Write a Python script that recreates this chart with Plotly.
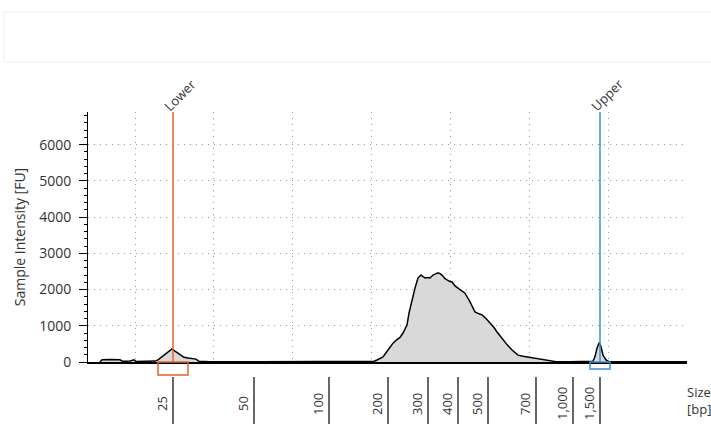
import plotly.graph_objects as go

# Electropherogram trace: position along the separation axis and intensity [FU]
position = [100, 102, 110, 120, 122, 124, 130, 134, 136, 140, 145, 150, 155, 158, 162, 166, 170, 172,
            175, 178, 181, 184, 188, 192, 196, 199, 210, 260, 320, 360, 370, 374, 377, 383, 388, 393,
            397, 400, 403, 407, 409, 412, 415, 418, 421, 423, 425, 428, 430, 433, 436, 438, 440, 442,
            445, 447, 450, 452, 455, 458, 461, 465, 470, 475, 479, 482, 486, 490, 494, 497, 500, 503,
            507, 512, 518, 523, 527, 532, 537, 542, 547, 552, 556, 570, 590, 593, 595, 597, 599, 600,
            601, 603, 606, 609, 640, 687]
intensity = [0, 60, 70, 60, 30, 20, 25, 60, 15, 20, 25, 20, 25, 60, 150, 240, 330, 360,
             300, 240, 180, 130, 110, 90, 80, 20, 10, 5, 5, 8, 10, 20, 55, 140, 330, 520,
             620, 680, 800, 1020, 1350, 1710, 2040, 2320, 2400, 2360, 2320, 2330, 2320, 2400, 2440, 2460, 2440, 2400,
             2300, 2265, 2220, 2210, 2100, 2040, 1980, 1900, 1660, 1380, 1330, 1300, 1200, 1080, 950, 830, 720, 610,
             480, 330, 190, 160, 140, 120, 110, 80, 55, 30, 10, 5, 5, 20, 150, 380, 520, 500,
             420, 190, 55, 10, 5, 5]

# Size ladder (bp) and its positions
ladder_sizes = ["25", "50", "100", "200", "300", "400", "500", "700", "1,000", "1,500"]
ladder_pos = [173, 254, 329, 388, 428, 458, 488, 536, 573, 600]

# Markers
marker_names = ["Lower", "Upper"]
marker_pos = [173, 600]
marker_colors = ["#E2632F", "#3D8FD9"]
marker_halfwidth = [15, 10]
marker_boxdepth = [0.052, 0.028]

FONT = "Open Sans, DejaVu Sans, sans-serif"
TXT = "#333333"
FS = 14

fig = go.Figure()
fig.add_trace(go.Scatter(
    x=position, y=intensity, mode="lines",
    line=dict(color="black", width=1.5),
    fill="tozeroy", fillcolor="#d9d9d9",
    hoverinfo="skip", showlegend=False,
))

shapes = []
annotations = []

# faint header box
shapes.append(dict(type="rect", xref="paper", yref="paper", x0=-0.1402, x1=1.05, y0=1.2, y1=1.4,
                   line=dict(color="#eeeeee", width=1), layer="below"))

# markers
for name, p, c, hw, bd in zip(marker_names, marker_pos, marker_colors, marker_halfwidth, marker_boxdepth):
    shapes.append(dict(type="line", xref="x", yref="paper", x0=p, x1=p, y0=0, y1=1,
                       line=dict(color=c, width=1.5)))
    shapes.append(dict(type="rect", xref="x", yref="paper", x0=p - hw, x1=p + hw, y0=-bd, y1=0,
                       line=dict(color=c, width=1.5)))
    annotations.append(dict(x=p, xref="x", y=1, yref="paper", text=name, showarrow=False,
                            textangle=-45, xanchor="center", yanchor="middle",
                            xshift=7, yshift=17, font=dict(family=FONT, size=FS - 1, color=TXT)))

# ladder ticks and labels
for lab, p in zip(ladder_sizes, ladder_pos):
    shapes.append(dict(type="line", xref="x", yref="paper", x0=p, x1=p, y0=-0.06, y1=-0.248,
                       line=dict(color="black", width=1.2)))
    annotations.append(dict(x=p, xref="x", y=-0.168, yref="paper", text=lab, showarrow=False,
                            textangle=-90, xanchor="center", yanchor="middle", xshift=-11,
                            font=dict(family=FONT, size=FS - 1, color=TXT)))

annotations.append(dict(x=0.9967, xref="paper", y=-0.155, yref="paper", text="Size<br>[bp]",
                        showarrow=False, xanchor="left", yanchor="middle", align="left",
                        font=dict(family=FONT, size=FS - 1, color=TXT)))

fig.update_layout(
    width=711, height=428,
    margin=dict(l=88, r=24, t=112, b=66),
    paper_bgcolor="white", plot_bgcolor="white",
    font=dict(family=FONT, size=FS, color=TXT),
    shapes=shapes, annotations=annotations,
    xaxis=dict(range=[88, 687], showticklabels=False, ticks="",
               showgrid=True, tick0=135, dtick=78.857, gridcolor="#9a9a9a",
               griddash="1px,5px", gridwidth=1,
               showline=True, linecolor="black", linewidth=2, zeroline=False),
    yaxis=dict(range=[0, 6900], tickvals=[0, 1000, 2000, 3000, 4000, 5000, 6000],
               ticks="outside", ticklen=8, tickcolor="black", tickwidth=1,
               ticklabelstandoff=5,
               showline=True, linecolor="black", linewidth=1,
               showgrid=True, gridcolor="#9a9a9a", griddash="1px,5px", gridwidth=1,
               zeroline=False,
               minor=dict(dtick=200, tick0=0, ticks="outside", ticklen=3, tickcolor="black", showgrid=False),
               title=dict(text="Sample Intensity [FU]", standoff=10,
                          font=dict(family=FONT, size=FS, color=TXT)),
               tickfont=dict(family=FONT, size=FS, color=TXT)),
)

fig.write_html("out.html", config={"displayModeBar": False},
               post_script="document.body.style.margin='0px';")
